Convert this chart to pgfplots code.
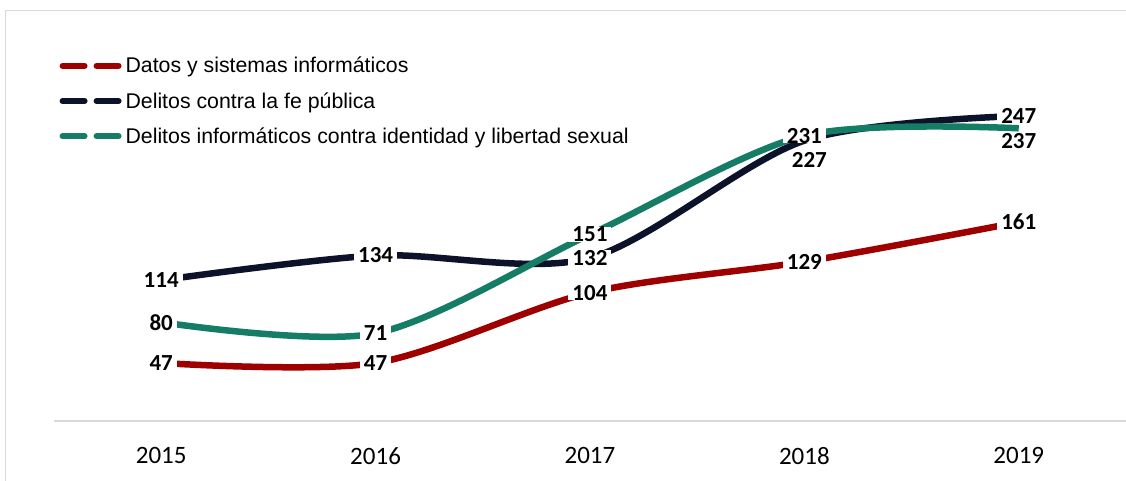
\documentclass[border=0pt]{standalone}
\usepackage{pgfplots}
\pgfplotsset{compat=1.18}
\usepackage{fontspec}
\setmainfont{Liberation Sans}
\newfontfamily\calibri{Carlito}
\definecolor{cred}{HTML}{9E0000}
\definecolor{cnavy}{HTML}{0B1229}
\definecolor{cgreen}{HTML}{157D66}
\definecolor{cframe}{HTML}{D9D9D9}
\begin{document}
\begin{tikzpicture}[x=1pt,y=1pt]
\useasboundingbox (0,0) rectangle (1126,481);
\draw[cframe, line width=1.5pt] (5.5,0) -- (5.5,470.5) -- (1126,470.5);
\begin{axis}[
  at={(54pt,60pt)}, anchor=south west, scale only axis,
  width=1072pt, height=370.5pt,
  xmin=-0.5, xmax=4.5, ymin=0, ymax=300,
  clip=false,
  axis y line=none,
  axis x line*=bottom,
  x axis line style={cframe, line width=2pt, -},
  xtick={0,1,2,3,4}, xticklabels={2015,2016,2017,2018,2019},
  major tick length=0pt,
  /pgf/number format/assume math mode=true,
  xticklabel style={font=\calibri\fontsize{25}{28}\selectfont, yshift=-23pt},
  legend style={at={(0.005,0.985)}, anchor=north west, draw=none, fill=none,
    font=\fontsize{21.3}{24}\selectfont, row sep=16pt, inner sep=0pt,
    nodes={inner sep=1pt}},
  legend cell align=left,
  legend image code/.code={\draw[#1, line width=6pt, line cap=round, dash pattern=on 22pt off 12pt] (3pt,0pt) -- (62pt,0pt);},
  every axis plot/.append style={line width=6.5pt},
  lbl/.style={draw=none, mark=none, forget plot, nodes near coords,
    every node near coord/.append style={anchor=center, font=\calibri\bfseries\fontsize{23}{26}\selectfont,
      fill=white, inner xsep=4pt, inner ysep=0pt, text=black}},
]
\addplot[cred, smooth, tension=0.5] coordinates {(0,47) (1,47) (2,104) (3,129) (4,161)};
\addlegendentry{Datos y sistemas informáticos}
\addplot[cnavy, smooth, tension=0.5] coordinates {(0,114) (1,134) (2,132) (3,227) (4,247)};
\addlegendentry{Delitos contra la fe pública}
\addplot[cgreen, smooth, tension=0.5] coordinates {(0,80) (1,71) (2,151) (3,231) (4,237)};
\addlegendentry{Delitos informáticos contra identidad y libertad sexual}
% labels
\addplot[lbl] coordinates {(0,47) (1,47) (2,104) (3,129) (4,161)};
\addplot[lbl] coordinates {(0,114) (1,134) (2,132) (4,247)};
\addplot[lbl, every node near coord/.append style={xshift=5pt, yshift=-19pt}] coordinates {(3,227)};
\addplot[lbl] coordinates {(0,80) (1,71) (2,151) (3,231)};
\addplot[lbl, every node near coord/.append style={yshift=-13pt}] coordinates {(4,237)};
\end{axis}
\end{tikzpicture}
\end{document}
